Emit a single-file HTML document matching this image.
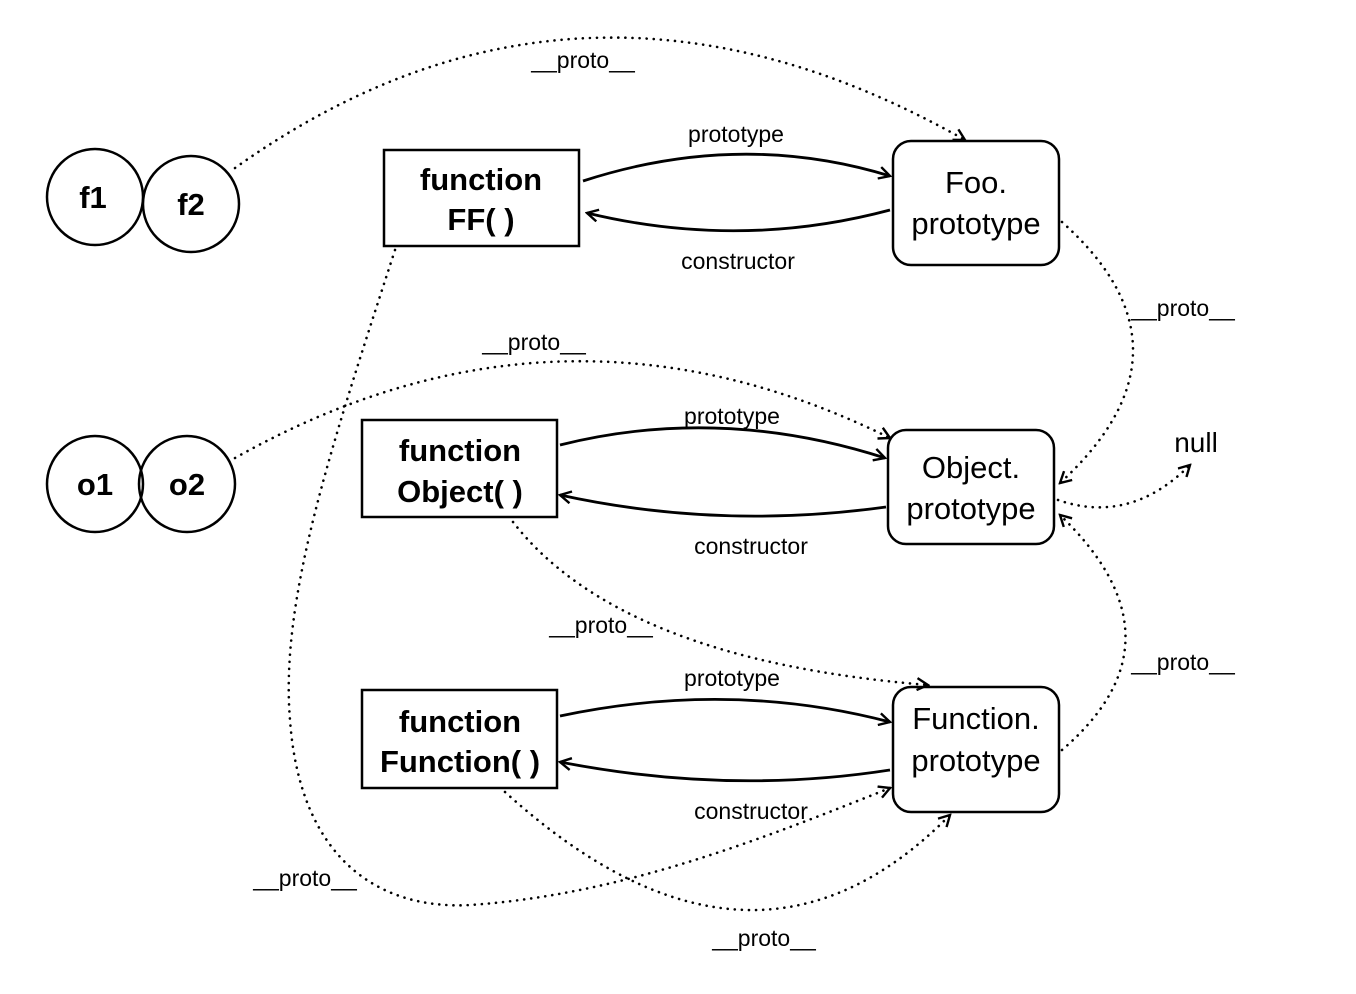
<!DOCTYPE html>
<html><head><meta charset="utf-8"><style>
html,body{margin:0;padding:0;background:#fff;}
svg{display:block;font-family:"Liberation Sans",sans-serif;}
</style></head><body>
<svg width="1356" height="994" viewBox="0 0 1356 994" xmlns="http://www.w3.org/2000/svg">
<defs>
<marker id="a" viewBox="0 0 14 14" refX="12" refY="7" markerWidth="14" markerHeight="14" markerUnits="userSpaceOnUse" orient="auto">
<path d="M1,1 L12,7 L1,13" fill="none" stroke="#000" stroke-width="2.4"/>
</marker>
</defs>
<g fill="none" stroke="#000" stroke-width="2.5">
<circle cx="95" cy="197" r="48"/><circle cx="191" cy="204" r="48"/>
<circle cx="95" cy="484" r="48"/><circle cx="187" cy="484" r="48"/>
<rect x="384" y="150" width="195" height="96"/>
<rect x="362" y="420" width="195" height="97"/>
<rect x="362" y="690" width="195" height="98"/>
<rect x="893" y="141" width="166" height="124" rx="18"/>
<rect x="888" y="430" width="166" height="114" rx="18"/>
<rect x="893" y="687" width="166" height="125" rx="18"/>
</g>
<g fill="none" stroke="#000" stroke-width="2.8" marker-end="url(#a)">
<path d="M583,181 Q740,130 890,176"/>
<path d="M890,210 Q740,250 587,213"/>
<path d="M560,445 Q720,405 885,458"/>
<path d="M886,507 Q720,530 560,495"/>
<path d="M560,716 Q730,680 890,722"/>
<path d="M890,770 Q730,795 560,762"/>
</g>
<g fill="none" stroke="#000" stroke-width="2.6" stroke-dasharray="0.1 7" stroke-linecap="round" marker-end="url(#a)">
<path d="M235,168 Q580,-78 965,140"/>
<path d="M235,458 Q560,275 890,438"/>
<path d="M1062,222 Q1205,350 1060,483"/>
<path d="M1058,500 Q1130,525 1190,465"/>
<path d="M1062,750 Q1190,640 1060,515"/>
<path d="M513,522 Q620,660 928,685"/>
<path d="M395,250 C330,450 280,600 290,720 C300,860 380,910 470,905 C620,895 760,840 890,788"/>
<path d="M505,792 Q752,1016 950,815"/>
</g>
<g font-size="31" font-weight="bold" text-anchor="middle" fill="#000">
<text x="93" y="208">f1</text>
<text x="191" y="215">f2</text>
<text x="95" y="495">o1</text>
<text x="187" y="495">o2</text>
<text x="481" y="190">function</text><text x="481" y="230">FF( )</text>
<text x="460" y="461">function</text><text x="460" y="502">Object( )</text>
<text x="460" y="732">function</text><text x="460" y="772">Function( )</text>
</g>
<g font-size="31" text-anchor="middle" fill="#000">
<text x="976" y="193">Foo.</text><text x="976" y="234">prototype</text>
<text x="971" y="478">Object.</text><text x="971" y="519">prototype</text>
<text x="976" y="729">Function.</text><text x="976" y="771">prototype</text>
<text x="1196" y="452" font-size="28">null</text>
</g>
<g font-size="23" text-anchor="middle" fill="#000">
<text x="736" y="142">prototype</text>
<text x="738" y="269">constructor</text>
<text x="732" y="424">prototype</text>
<text x="751" y="554">constructor</text>
<text x="732" y="686">prototype</text>
<text x="751" y="819">constructor</text>
<text x="583" y="68">__proto__</text>
<text x="534" y="350">__proto__</text>
<text x="1183" y="316">__proto__</text>
<text x="1183" y="670">__proto__</text>
<text x="601" y="633">__proto__</text>
<text x="305" y="886">__proto__</text>
<text x="764" y="946">__proto__</text>
</g>
</svg>
</body></html>
